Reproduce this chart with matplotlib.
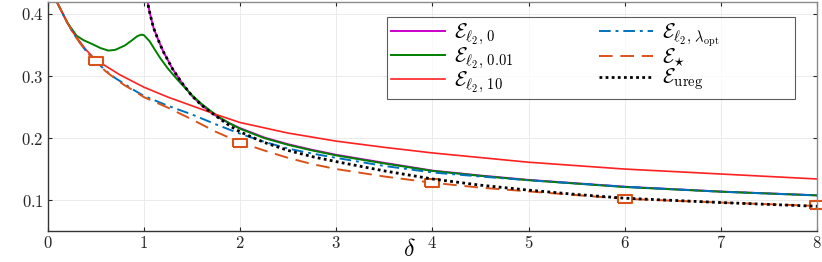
import matplotlib
matplotlib.use('Agg')
from matplotlib import pyplot as plt

plt.rcParams['mathtext.fontset'] = 'cm'
plt.rcParams['font.family'] = ['DejaVu Serif']

# E_l2, lambda = 0 (only defined for delta > 1 in view)
delta_l2_0 = [1.02, 1.04, 1.06, 1.08, 1.1, 1.15, 1.2, 1.3, 1.4, 1.5, 1.6, 1.7, 1.8, 1.9, 2.0,
              2.25, 2.5, 2.75, 3.0, 3.5, 4.0, 4.5, 5.0, 6.0, 7.0, 8.0]
err_l2_0 = [0.44, 0.418, 0.403, 0.39, 0.378, 0.358, 0.34, 0.311, 0.288, 0.268, 0.253, 0.241, 0.231, 0.223, 0.216,
            0.201, 0.19, 0.181, 0.173, 0.16, 0.1475, 0.1395, 0.1325, 0.1215, 0.1137, 0.1077]

# E_l2, lambda = 0.01
delta_l2_001 = [0.05, 0.1, 0.2, 0.3, 0.37, 0.47, 0.55, 0.63, 0.7, 0.8, 0.88, 0.93, 0.97, 1.0, 1.06, 1.12, 1.17,
                1.25, 1.35, 1.5, 1.6, 1.7, 1.8, 1.9, 2.0, 2.25, 2.5, 2.75, 3.0, 3.5, 4.0, 4.5, 5.0, 6.0, 7.0, 8.0]
err_l2_001 = [0.433, 0.418, 0.387, 0.365, 0.358, 0.351, 0.345, 0.341, 0.342, 0.349, 0.358, 0.364, 0.3666, 0.366,
              0.356, 0.341, 0.329, 0.312, 0.294, 0.269, 0.255, 0.243, 0.232, 0.223, 0.215, 0.2, 0.189, 0.18, 0.172,
              0.159, 0.147, 0.139, 0.132, 0.121, 0.1135, 0.1075]

# E_l2, lambda = 10
delta_l2_10 = [0.05, 0.1, 0.25, 0.4, 0.5, 0.75, 1.0, 1.25, 1.5, 1.75, 2.0, 2.5, 3.0, 3.5, 4.0, 5.0, 6.0, 7.0, 8.0]
err_l2_10 = [0.433, 0.418, 0.373, 0.342, 0.326, 0.302, 0.282, 0.266, 0.252, 0.238, 0.225, 0.208, 0.195, 0.185,
             0.176, 0.161, 0.15, 0.142, 0.134]

# E_l2, lambda_opt
delta_l2_opt = [0.05, 0.1, 0.2, 0.3, 0.4, 0.5, 0.6, 0.7, 0.8, 0.9, 1.0, 1.25, 1.5, 1.75, 2.0, 2.25, 2.5, 2.75, 3.0,
                3.5, 4.0, 4.5, 5.0, 6.0, 7.0, 8.0]
err_l2_opt = [0.433, 0.418, 0.387, 0.361, 0.34, 0.324, 0.309, 0.297, 0.287, 0.277, 0.268, 0.252, 0.238, 0.222, 0.207,
              0.194, 0.183, 0.175, 0.168, 0.155, 0.1445, 0.138, 0.132, 0.1215, 0.1135, 0.1075]

# E_star (Bayes optimal)
delta_star = [0.05, 0.1, 0.2, 0.3, 0.4, 0.5, 0.6, 0.7, 0.8, 0.9, 1.0, 1.25, 1.5, 1.75, 2.0, 2.25, 2.5, 2.75, 3.0,
              3.5, 4.0, 4.5, 5.0, 5.5, 6.0, 7.0, 8.0]
err_star = [0.433, 0.418, 0.387, 0.361, 0.34, 0.323, 0.308, 0.296, 0.285, 0.276, 0.266, 0.249, 0.23, 0.21, 0.193,
            0.18, 0.168, 0.158, 0.15, 0.138, 0.128, 0.12, 0.114, 0.108, 0.102, 0.096, 0.0905]
delta_star_marks = [0.5, 2, 4, 6, 8]
err_star_marks = [0.325, 0.192, 0.127, 0.1016, 0.092]

# E_ureg
delta_ureg = [1.02, 1.04, 1.06, 1.08, 1.1, 1.15, 1.2, 1.3, 1.4, 1.5, 1.6, 1.7, 1.8, 1.9, 2.0, 2.25, 2.5, 2.75, 3.0,
              3.5, 4.0, 4.5, 5.0, 5.5, 6.0, 7.0, 8.0]
err_ureg = [0.44, 0.418, 0.403, 0.39, 0.378, 0.358, 0.34, 0.311, 0.288, 0.268, 0.253, 0.241, 0.23, 0.219, 0.21,
            0.193, 0.18, 0.17, 0.162, 0.147, 0.134, 0.124, 0.116, 0.109, 0.103, 0.096, 0.09]

fig = plt.figure(figsize=(8.22, 2.62), dpi=100)
ax = fig.add_axes([0.058, 0.118, 0.936, 0.876])

ax.plot(delta_l2_0, err_l2_0, color='#CC00CC', lw=1.4, label=r'$\mathcal{E}_{\ell_2,\,0}$')
ax.plot(delta_l2_001, err_l2_001, color='#008000', lw=1.4, label=r'$\mathcal{E}_{\ell_2,\,0.01}$')
ax.plot(delta_l2_10, err_l2_10, color='#FF2020', lw=1.2, label=r'$\mathcal{E}_{\ell_2,\,10}$')
ax.plot(delta_l2_opt, err_l2_opt, color='#0072BD', lw=1.4, ls=(0, (6, 2.5, 1.5, 2.5)),
        label=r'$\mathcal{E}_{\ell_2,\,\lambda_{\rm opt}}$')
ax.plot(delta_star, err_star, color='#D95319', lw=1.4, ls=(0, (7, 4)), label=r'$\mathcal{E}_{\star}$')
rect = [(-1, -0.6), (1, -0.6), (1, 0.6), (-1, 0.6), (-1, -0.6)]
ax.plot(delta_star_marks, err_star_marks, ls='none', marker=rect, ms=10, mfc='white', mec='#D95319', mew=1.5,
        clip_on=False)
ax.plot(delta_ureg, err_ureg, color='black', lw=2.0, ls=(0, (1, 1.2)), label=r'$\mathcal{E}_{\rm ureg}$')

ax.set_xlim(0, 8)
ax.set_ylim(0.05, 0.42)
ax.set_xticks(range(0, 9))
ax.set_xticklabels(['$%d$' % i for i in range(0, 9)], fontsize=12)
ax.set_yticks([0.1, 0.2, 0.3, 0.4])
ax.set_yticklabels(['$0.1$', '$0.2$', '$0.3$', '$0.4$'], fontsize=12)
ax.tick_params(direction='in', length=3, color='#262626', top=True, right=True, labelcolor='#262626', pad=3)
ax.grid(True, color='#e8e8e8', lw=0.6)
for name, s in ax.spines.items():
    s.set_color('#333333' if name in ('left', 'bottom') else '#8a8a8a')
    s.set_linewidth(1.0)
ax.set_xlabel(r'$\delta$', fontsize=17)
ax.xaxis.set_label_coords(0.47, -0.03)

handles, labels = ax.get_legend_handles_labels()
leg = ax.legend(handles, labels, ncol=2, loc='upper left', alignment='left',
                bbox_to_anchor=(0.441, 0.571, 0.53, 0.361), mode='expand', fontsize=15, handlelength=2.6,
                frameon=True, fancybox=False, edgecolor='#333333', borderpad=0.2, labelspacing=-0.1,
                handletextpad=0.4, columnspacing=0.6, borderaxespad=0)
leg.get_frame().set_linewidth(0.8)
# keep the frame width but put the second column closer, as in the original
leg._legend_handle_box.mode = 'fixed'
leg._legend_handle_box.sep = 62

plt.savefig('out.png', dpi=100)
